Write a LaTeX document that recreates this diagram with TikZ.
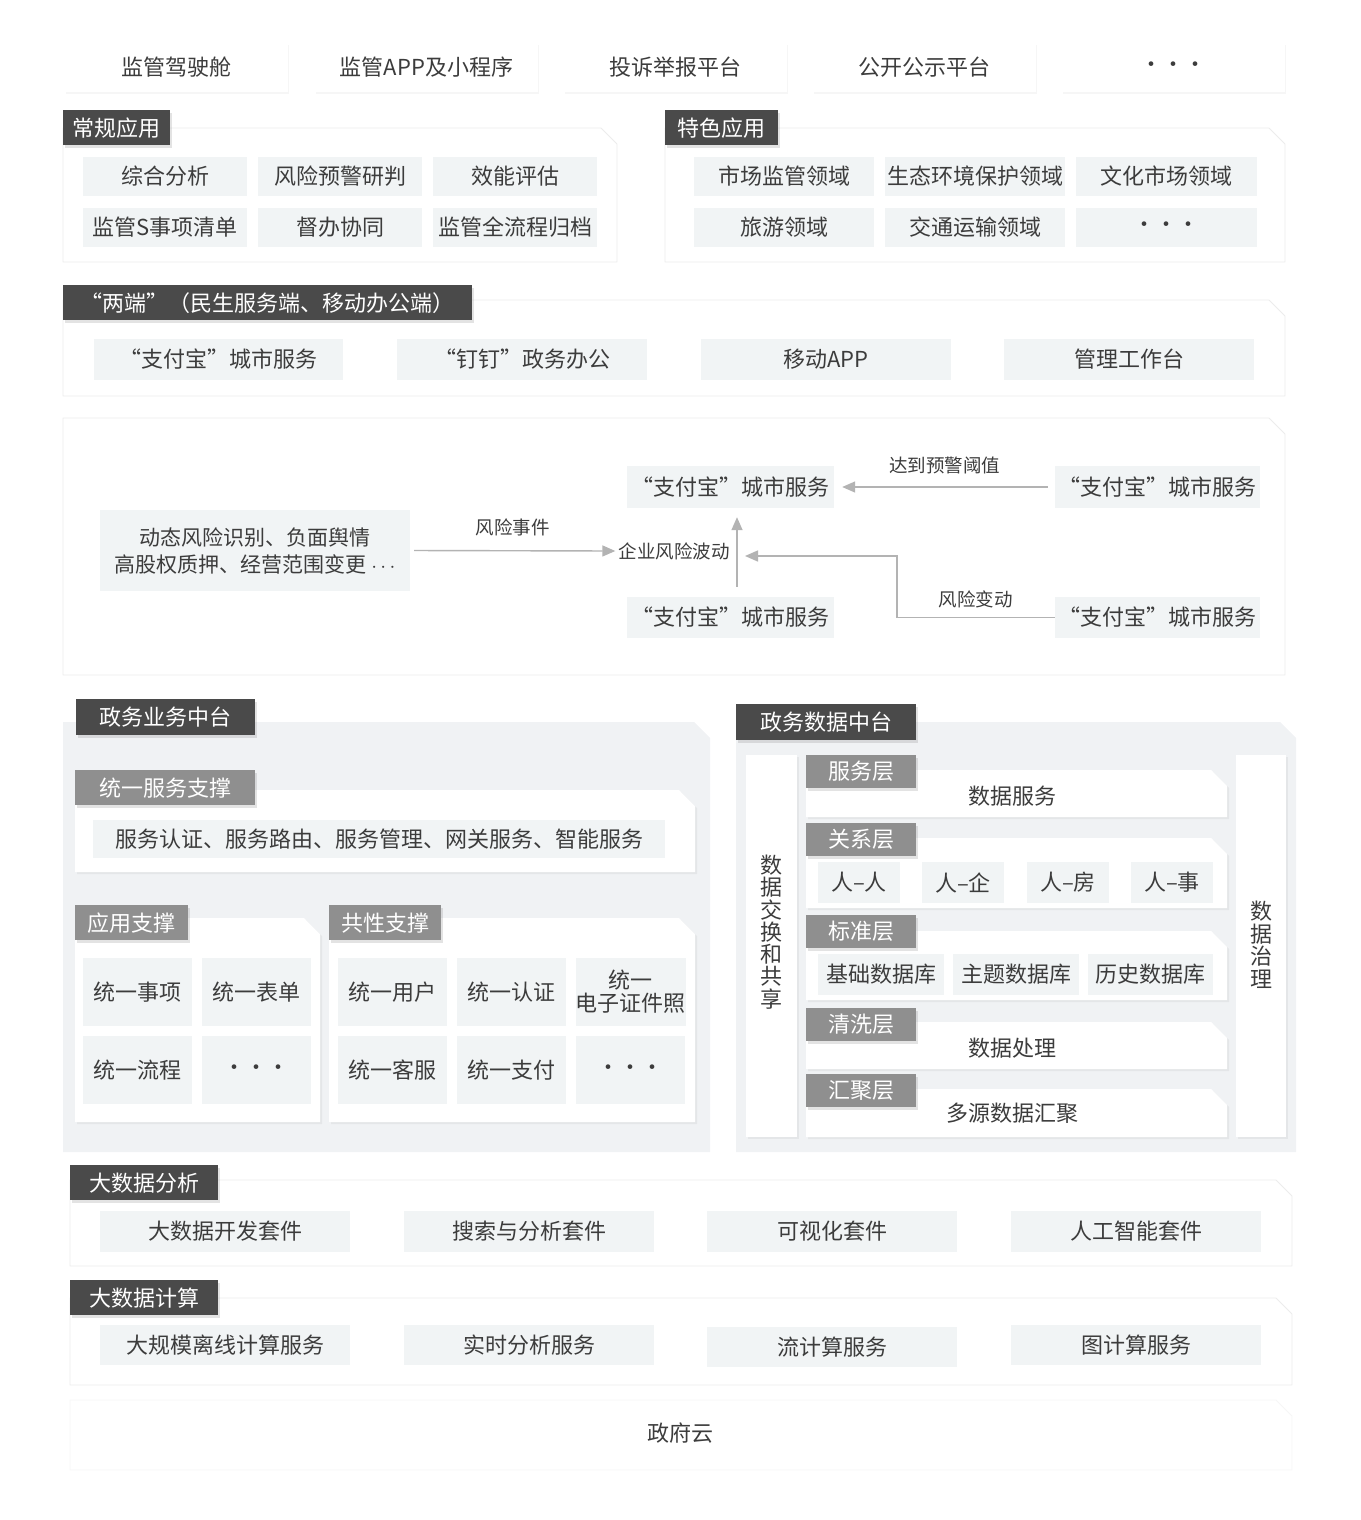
\documentclass[tikz,border=0pt]{standalone}
\usepackage{fontspec}
\setmainfont{Noto Sans CJK SC}
\newfontfamily\fwq{Noto Sans CJK SC}[CharacterWidth=Full]
\usetikzlibrary{arrows.meta,shadows}

\definecolor{labdark}{HTML}{4A4A4A}
\definecolor{labmid}{HTML}{8F8F8F}
\definecolor{cellgray}{HTML}{F1F4F5}
\definecolor{bggray}{HTML}{F0F2F4}
\definecolor{txt}{HTML}{3C3C3C}
\definecolor{arrowgray}{HTML}{B3B3B3}
\definecolor{edge}{HTML}{ECECEC}

\newcommand{\qlft}{{\fwq “}}
\newcommand{\qrgt}{{\fwq ”}}
\newcommand{\tridots}{{\fwq ···}}

% white panel with the top right corner cut off
\newcommand{\cutpanel}[5][panel]{%
  \path[#1] (#2,#3) -- ({#4-16},#3) -- (#4,{#3+16}) -- (#4,#5) -- (#2,#5) -- cycle;}

\tikzset{
  base/.style={text=txt, font=\fontsize{22pt}{26pt}\selectfont, inner sep=0pt},
  sz/.style 2 args={minimum width=#1pt, minimum height=#2pt},
  topbox/.style={base, fill=white, drop shadow={opacity=.07, shadow xshift=1pt, shadow yshift=-2pt}},
  cell/.style={base, fill=cellgray},
  darklab/.style={base, fill=labdark, text=white, anchor=north west,
    drop shadow={opacity=.22, shadow xshift=2pt, shadow yshift=-3pt}},
  midlab/.style={darklab, fill=labmid},
  panel/.style={fill=white, draw=edge, line width=.8pt},
  shadepanel/.style={fill=white, drop shadow={opacity=.10, shadow xshift=2pt, shadow yshift=-2pt}},
  bgpanel/.style={fill=bggray},
  farpanel/.style={fill=white, draw=edge!45, line width=.8pt},
  colbox/.style={fill=white, drop shadow={opacity=.10, shadow xshift=2pt, shadow yshift=-2pt}},
  note/.style={text=txt, font=\fontsize{18.5pt}{22pt}\selectfont, inner sep=3pt},
  flow/.style={draw=arrowgray, line width=1.4pt, -{Triangle[length=13pt,width=11pt]}},
}

\begin{document}
\begin{tikzpicture}[x=1pt, y=-1pt]
\useasboundingbox (0,0) rectangle (1360,1520);

% panels
\cutpanel{63}{128}{617}{262}
\cutpanel{665}{128}{1285}{262}
\cutpanel{63}{300}{1285}{396}
\cutpanel{63}{418}{1285}{675}
\cutpanel[bgpanel]{63}{722}{710}{1152}
\cutpanel[shadepanel]{75}{790}{695}{872}
\cutpanel[shadepanel]{75}{918}{320}{1122}
\cutpanel[shadepanel]{329}{918}{695}{1122}
\cutpanel[bgpanel]{736}{722}{1296}{1152}
\cutpanel[shadepanel]{806}{770}{1227}{817}
\cutpanel[shadepanel]{806}{838}{1227}{908}
\cutpanel[shadepanel]{806}{931}{1227}{1000}
\cutpanel[shadepanel]{806}{1022}{1227}{1069}
\cutpanel[shadepanel]{806}{1089}{1227}{1137}
\cutpanel{70}{1180}{1292}{1266}
\cutpanel{70}{1298}{1292}{1385}
\cutpanel[farpanel]{70}{1400}{1292}{1470}

% top row
\node[topbox, sz={223}{49}] (cockpit) at (176.5,67.5) {监管驾驶舱};
\node[topbox, sz={223}{49}] (miniapp) at (426.5,67.5) {监管APP及小程序};
\node[topbox, sz={223}{49}] (report) at (675.5,67.5) {投诉举报平台};
\node[topbox, sz={223}{49}] (public) at (924,67.5) {公开公示平台};
\node[topbox, sz={223}{49}] (topmore) at (1173.5,67.5) {\tridots};

% regular and special applications
\node[darklab, sz={107}{35}] (regular) at (63,110) {常规应用};
\node[cell, sz={164}{39}] (analysis) at (165,176.5) {综合分析};
\node[cell, sz={164}{39}] (warning) at (340,176.5) {风险预警研判};
\node[cell, sz={164}{39}] (efficiency) at (515,176.5) {效能评估};
\node[cell, sz={164}{39}] (checklist) at (165,227.5) {监管S事项清单};
\node[cell, sz={164}{39}] (supervise) at (340,227.5) {督办协同};
\node[cell, sz={164}{39}] (archive) at (515,227.5) {监管全流程归档};

\node[darklab, sz={113}{35}] (special) at (665,110) {特色应用};
\node[cell, sz={180}{39}] (market) at (784,176.5) {市场监管领域};
\node[cell, sz={180}{39}] (ecology) at (975,176.5) {生态环境保护领域};
\node[cell, sz={181}{39}] (culture) at (1166.5,176.5) {文化市场领域};
\node[cell, sz={180}{39}] (tourism) at (784,227.5) {旅游领域};
\node[cell, sz={180}{39}] (traffic) at (975,227.5) {交通运输领域};
\node[cell, sz={181}{39}] (specmore) at (1166.5,227.5) {\tridots};

% two ends
\node[darklab, sz={409}{35}] (twoends) at (63,285) {\qlft 两端\qrgt （民生服务端、移动办公端）};
\node[cell, sz={249}{41}] (alipay) at (218.5,359.5) {\qlft 支付宝\qrgt 城市服务};
\node[cell, sz={250}{41}] (dingtalk) at (522,359.5) {\qlft 钉钉\qrgt 政务办公};
\node[cell, sz={250}{41}] (mobileapp) at (826,359.5) {移动APP};
\node[cell, sz={250}{41}] (workbench) at (1129,359.5) {管理工作台};

% risk flow
\node[cell, sz={310}{81}, align=center, font=\fontsize{21pt}{27pt}\selectfont] (evt) at (255,550.5)
  {动态风险识别、负面舆情\\高股权质押、经营范围变更 \textcolor{txt}{$\cdots$}};
\node[note] (wave) at (674,551) {企业风险波动};
\node[cell, sz={207}{42}] (alertTop) at (730.5,487) {\qlft 支付宝\qrgt 城市服务};
\node[cell, sz={207}{41}] (cityBot) at (730.5,617.5) {\qlft 支付宝\qrgt 城市服务};
\node[cell, sz={205}{42}] (srcTop) at (1157.5,487) {\qlft 支付宝\qrgt 城市服务};
\node[cell, sz={205}{41}] (srcBot) at (1157.5,617.5) {\qlft 支付宝\qrgt 城市服务};
\coordinate (turn) at (897,556);
\coordinate (hit) at (745,556);

\draw[flow, shorten <=4pt] (evt.east) -- node[note, above=11pt] {风险事件} (wave.west);
\draw[flow, shorten <=7pt, shorten >=8pt] (srcTop.west) -- node[note, above=9pt] {达到预警阈值} (alertTop.east);
\draw[flow, shorten <=10pt, shorten >=9pt] ([xshift=6.5pt]cityBot.north) -- ([xshift=6.5pt]alertTop.south);
\draw[flow] (srcBot.west) -- node[note, above=6pt] {风险变动} (srcBot.west -| turn) |- (hit);

% business middle platform
\node[darklab, sz={179}{36}] (bizhub) at (76,699) {政务业务中台};
\node[midlab, sz={180}{35}] (unisvc) at (75,770) {统一服务支撑};
\node[cell, sz={572}{38}] (svclist) at (379,839) {服务认证、服务路由、服务管理、网关服务、智能服务};
\node[midlab, sz={113}{35}] (appsup) at (75,905) {应用支撑};
\node[cell, sz={109}{68}] (item) at (137.5,992) {统一事项};
\node[cell, sz={109}{68}] (form) at (256.5,992) {统一表单};
\node[cell, sz={109}{68}] (process) at (137.5,1070) {统一流程};
\node[cell, sz={109}{68}] (appmore) at (256.5,1070) {\tridots};
\node[midlab, sz={112}{35}] (comsup) at (329,905) {共性支撑};
\node[cell, sz={109}{68}] (user) at (392.5,992) {统一用户};
\node[cell, sz={109}{68}] (auth) at (511.5,992) {统一认证};
\node[cell, sz={109}{68}, align=center, font=\fontsize{22pt}{23pt}\selectfont] (license) at (630.5,992) {统一\\电子证件照};
\node[cell, sz={109}{68}] (custsvc) at (392.5,1070) {统一客服};
\node[cell, sz={109}{68}] (payment) at (511.5,1070) {统一支付};
\node[cell, sz={109}{68}] (commore) at (630.5,1070) {\tridots};

% data middle platform
\node[darklab, sz={180}{36}] (datahub) at (736,704) {政务数据中台};
\node[colbox, sz={51}{382}] (xchgcol) at (771.5,946) {};
\node[base, align=center, font=\fontsize{22pt}{22.3pt}\selectfont] (xchg) at (771.5,932) {数\\据\\交\\换\\和\\共\\享};
\node[colbox, sz={50}{382}] (govcol) at (1261,946) {};
\node[base, align=center, font=\fontsize{22pt}{22.5pt}\selectfont] (gov) at (1261,945) {数\\据\\治\\理};

\node[midlab, sz={110}{33}] (svclayer) at (806,755) {服务层};
\node[base] (datasvc) at (1012,796) {数据服务};
\node[midlab, sz={110}{33}] (rellayer) at (806,823) {关系层};
\node[cell, sz={82}{41}] (pp) at (859,882.5) {人–人};
\node[cell, sz={82}{41}] (pe) at (963,882.5) {人–企};
\node[cell, sz={82}{41}] (ph) at (1068,882.5) {人–房};
\node[cell, sz={82}{41}] (pa) at (1172,882.5) {人–事};
\node[midlab, sz={110}{33}] (stdlayer) at (806,915) {标准层};
\node[cell, sz={126}{41}] (basedb) at (881,974.5) {基础数据库};
\node[cell, sz={126}{41}] (topicdb) at (1016,974.5) {主题数据库};
\node[cell, sz={125}{41}] (histdb) at (1150.5,974.5) {历史数据库};
\node[midlab, sz={110}{33}] (cleanlayer) at (806,1008) {清洗层};
\node[base] (dataproc) at (1012,1048) {数据处理};
\node[midlab, sz={110}{33}] (gatherlayer) at (806,1074) {汇聚层};
\node[base] (multisrc) at (1012,1113) {多源数据汇聚};

% big data analysis and computing
\node[darklab, sz={148}{35}] (bdanalysis) at (70,1165) {大数据分析};
\node[cell, sz={250}{41}] (devkit) at (225,1231.5) {大数据开发套件};
\node[cell, sz={250}{41}] (searchkit) at (529,1231.5) {搜索与分析套件};
\node[cell, sz={250}{41}] (viskit) at (832,1231.5) {可视化套件};
\node[cell, sz={250}{41}] (aikit) at (1136,1231.5) {人工智能套件};
\node[darklab, sz={148}{35}] (bdcompute) at (70,1280) {大数据计算};
\node[cell, sz={250}{40}] (offline) at (225,1345) {大规模离线计算服务};
\node[cell, sz={250}{40}] (realtime) at (529,1345) {实时分析服务};
\node[cell, sz={250}{40}] (stream) at (832,1347) {流计算服务};
\node[cell, sz={250}{40}] (graph) at (1136,1345) {图计算服务};

\node[base] (govcloud) at (680,1433) {政府云};

\end{tikzpicture}
\end{document}
